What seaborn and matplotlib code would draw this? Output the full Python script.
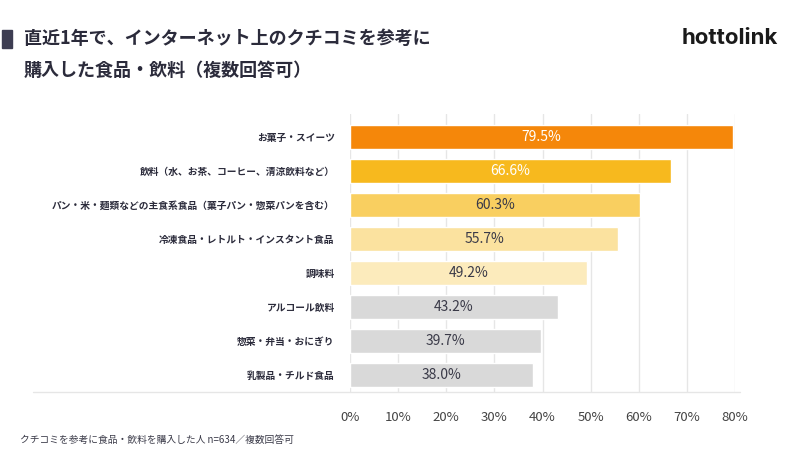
import pandas as pd
import seaborn as sns
import matplotlib.pyplot as plt
from matplotlib.patches import Rectangle

categories = [
    "お菓子・スイーツ",
    "飲料（水、お茶、コーヒー、清涼飲料など）",
    "パン・米・麺類などの主食系食品（菓子パン・惣菜パンを含む）",
    "冷凍食品・レトルト・インスタント食品",
    "調味料",
    "アルコール飲料",
    "惣菜・弁当・おにぎり",
    "乳製品・チルド食品",
]
values = [79.5, 66.6, 60.3, 55.7, 49.2, 43.2, 39.7, 38.0]
bar_colors = ["#F5870A", "#F7B91E", "#F9CF60", "#FBE29F", "#FCEBBC",
              "#D9D9D9", "#D9D9D9", "#D9D9D9"]
label_colors = ["white", "white", "#3a3a48", "#3a3a48", "#3a3a48",
                "#3a3a48", "#3a3a48", "#3a3a48"]
xticks = [0, 10, 20, 30, 40, 50, 60, 70, 80]

title = "直近1年で、インターネット上のクチコミを参考に\n購入した食品・飲料（複数回答可）"
footer = "クチコミを参考に食品・飲料を購入した人 n=634／複数回答可"

sns.set_style("white")
plt.rcParams["font.family"] = ["Noto Sans CJK JP", "DejaVu Sans"]

df = pd.DataFrame({"category": categories, "value": values})

fig = plt.figure(figsize=(8, 4.69), dpi=100)
ax = fig.add_axes([350 / 800, 1 - 392 / 469, 385 / 800, 278 / 469])

sns.barplot(data=df, x="value", y="category", hue="category",
            palette=bar_colors, legend=False, width=0.71,
            saturation=1, ax=ax)

ax.set_xlim(0, 80)
ax.set_ylim(7.5, -0.68)
ax.set_xticks(xticks)
ax.set_xticklabels([f"{t}%" for t in xticks], color="#444444", fontsize=9.5)
ax.tick_params(axis="x", length=0, pad=14)
ax.tick_params(axis="y", length=0, pad=11)
ax.set_yticks(range(len(categories)))
ax.set_yticklabels(categories, fontsize=7, fontweight="bold", color="#2b2b3b")
ax.set_xlabel("")
ax.set_ylabel("")
ax.grid(axis="x", color="#e6e6e6", linewidth=1)
ax.set_axisbelow(True)
for s in ax.spines.values():
    s.set_visible(False)

for i, v in enumerate(values):
    ax.text(v / 2, i, f"{v:.1f}%", ha="center", va="center",
            fontsize=10, color=label_colors[i])

# bottom rule running under the labels
fig.add_artist(plt.Line2D([33 / 800, 740 / 800], [1 - 392 / 469] * 2,
                          color="#e6e6e6", linewidth=1))

# title block
fig.add_artist(Rectangle((2 / 800, 1 - 48 / 469), 10 / 800, 18 / 469,
                         color="#3d3d52", transform=fig.transFigure))
fig.text(24 / 800, 1 - 38 / 469, title.split("\n")[0], fontsize=13,
         fontweight="bold", color="#2b2b3b", va="center")
fig.text(24 / 800, 1 - 70 / 469, title.split("\n")[1], fontsize=13,
         fontweight="bold", color="#2b2b3b", va="center")
fig.text(778 / 800, 1 - 38 / 469, "hottolink", fontsize=16,
         fontweight="bold", color="#1a1a1a", ha="right", va="center",
         family="Inter")

fig.text(20 / 800, 1 - 440 / 469, footer, fontsize=7, color="#3a3a48",
         va="center")

fig.savefig("out.png", dpi=100)
